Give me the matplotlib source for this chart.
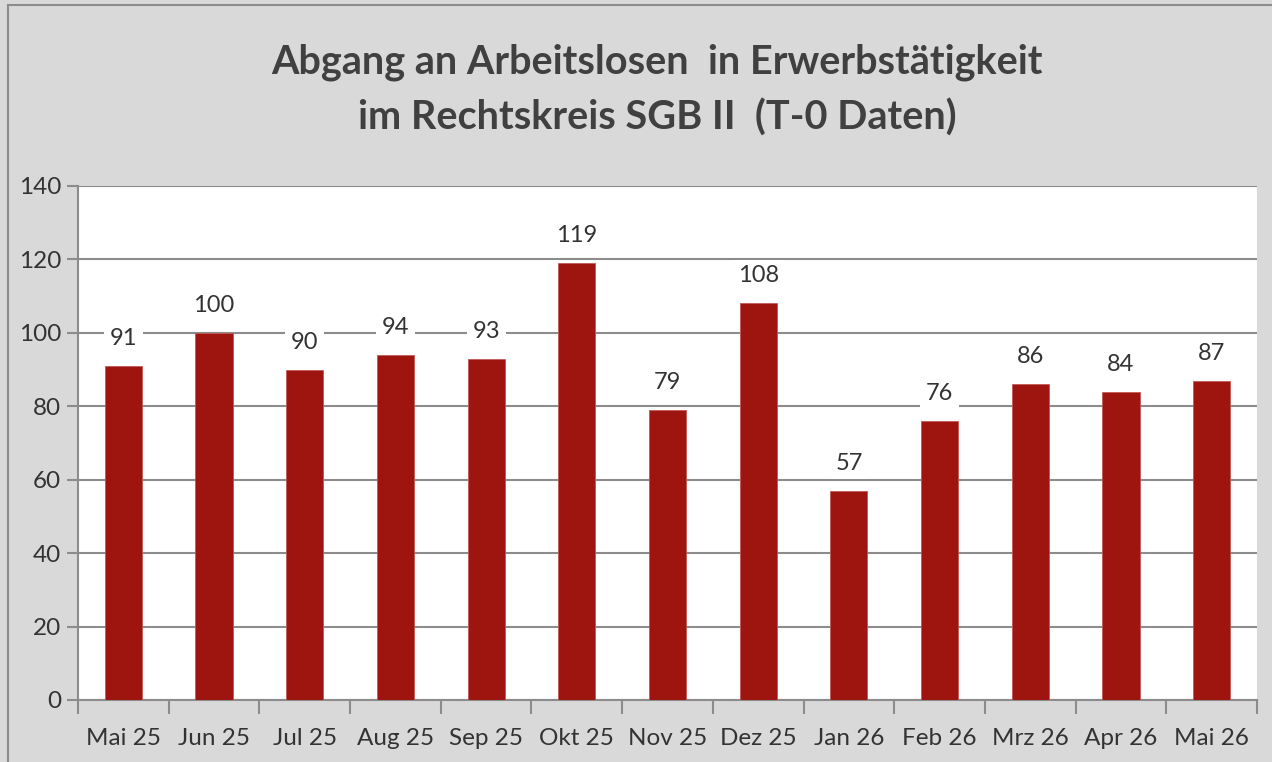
import matplotlib
matplotlib.use("Agg")
import matplotlib.pyplot as plt
import numpy as np
from matplotlib.lines import Line2D

# Daten
monate = ["Mai 25", "Jun 25", "Jul 25", "Aug 25", "Sep 25", "Okt 25", "Nov 25",
          "Dez 25", "Jan 26", "Feb 26", "Mrz 26", "Apr 26", "Mai 26"]
abgang = [91, 100, 90, 94, 93, 119, 79, 108, 57, 76, 86, 84, 87]

plt.rcParams['font.family'] = ['Lato', 'DejaVu Sans']
textfarbe = '#333333'
grau = '#8c8c8c'

fig = plt.figure(figsize=(12.72, 7.62), dpi=100)
fig.patch.set_facecolor('#d9d9d9')

# Rahmen oben und links
fig.add_artist(Line2D([8/1272, 8/1272], [0, 1 - 5/762], color=grau, lw=1.5, transform=fig.transFigure))
fig.add_artist(Line2D([8/1272, 1], [1 - 5/762, 1 - 5/762], color=grau, lw=1.5, transform=fig.transFigure))

ax = fig.add_axes([78/1272, 1 - 700/762, (1257 - 78)/1272, (700 - 186)/762])
ax.set_facecolor('white')

x = np.arange(len(monate))
ax.bar(x, abgang, width=0.41, color='#9e1510', edgecolor='#c05a56', linewidth=0.6, zorder=3)

for xi, v in zip(x, abgang):
    ax.text(xi, v + 7.5, str(v), ha='center', va='center', fontsize=17, color=textfarbe,
            zorder=4, bbox=dict(facecolor='white', edgecolor='none', pad=4))

ax.set_ylim(0, 140)
ax.set_xlim(-0.5, len(monate) - 0.5)
ax.set_yticks(range(0, 141, 20))
ax.yaxis.grid(True, color=grau, lw=1.5, zorder=1)
ax.set_axisbelow(True)

ax.set_xticks(x)
ax.set_xticklabels(monate)
ax.set_xticks(np.arange(-0.5, len(monate)), minor=True)
ax.tick_params(axis='x', which='major', length=0, pad=20, labelsize=17.5, labelcolor=textfarbe)
ax.tick_params(axis='x', which='minor', length=10, width=1.5, color=grau)
ax.tick_params(axis='y', length=8, width=1.5, color=grau, labelsize=17.5, labelcolor=textfarbe, pad=4)

for s in ['top', 'right']:
    ax.spines[s].set_visible(False)
for s in ['left', 'bottom']:
    ax.spines[s].set_color(grau)
    ax.spines[s].set_linewidth(1.5)

fig.text(657/1272, 1 - 62/762, "Abgang an Arbeitslosen  in Erwerbstätigkeit",
         ha='center', va='center', fontsize=28.5, fontweight='bold', color='#404040')
fig.text(657/1272, 1 - 118/762, "im Rechtskreis SGB II  (T-0 Daten)",
         ha='center', va='center', fontsize=28.5, fontweight='bold', color='#404040')

fig.savefig("out.png", dpi=100, facecolor=fig.get_facecolor())
